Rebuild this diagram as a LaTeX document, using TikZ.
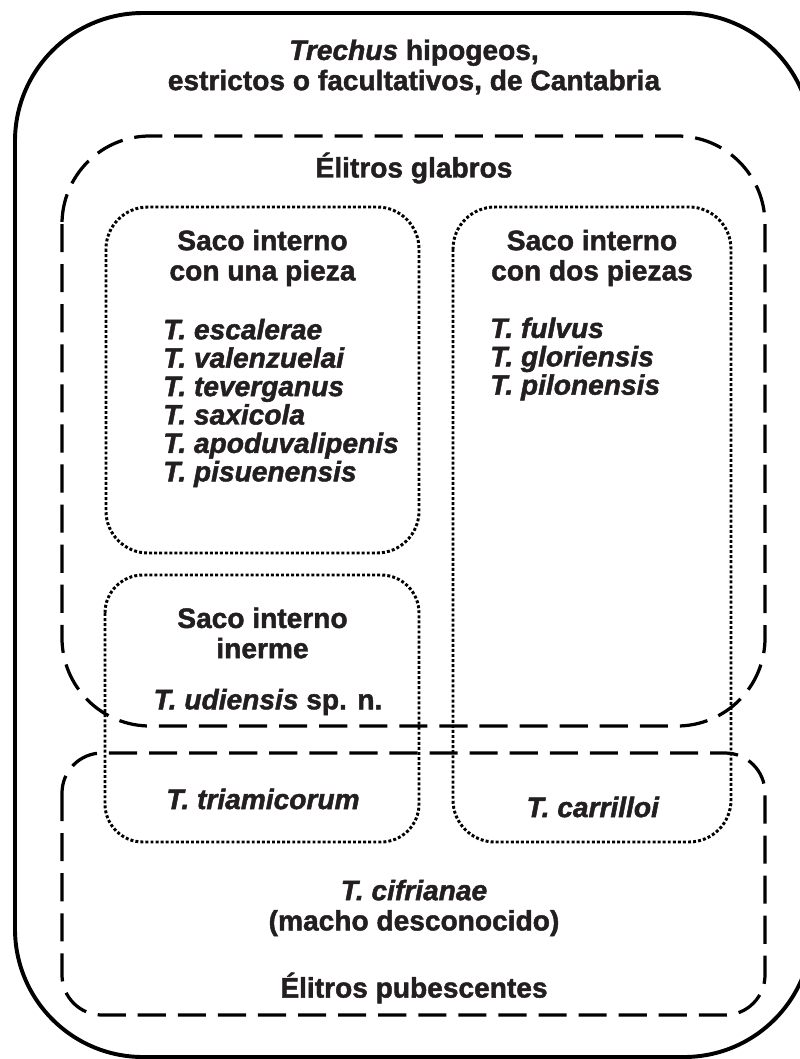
\documentclass[tikz,border=0pt]{standalone}
\usepackage{fontspec}
\setmainfont{Liberation Sans}[BoldFeatures={FakeBold=1.6},BoldItalicFeatures={FakeBold=1.6}]
\usetikzlibrary{positioning}
\definecolor{ink}{HTML}{231F20}

\begin{document}
\begin{tikzpicture}[x=0.025cm,y=-0.025cm,
  every node/.style={inner sep=0pt,text=ink,align=center,font=\fontsize{20}{21.5}\selectfont\bfseries},
  outerbox/.style={line width=2.8pt,rounded corners=3.2cm},
  dashbox/.style={line width=2.3pt,dash pattern=on 20pt off 8.5pt},
  dotbox/.style={line width=2.1pt,dash pattern=on 2.1pt off 1.5pt,rounded corners=1.05cm},
  spp/.style={align=left,anchor=west,font=\fontsize{20}{20.2}\selectfont\bfseries\itshape}]
\clip (0,0) rectangle (800,1059);
% boxes
\draw[outerbox] (15,13) rectangle (812,1057);
\draw[dashbox,rounded corners=2.2cm] (62,136) rectangle (765,726);
\draw[dashbox,rounded corners=1cm] (62,753) rectangle (765,1015);
\draw[dotbox] (106,207) rectangle (419,553);
\draw[dotbox] (453,207) rectangle (731,842);
\draw[dotbox,rounded corners=0.95cm] (105,575) rectangle (419,842);
% texts
\node (tit) at (414,67) {\textit{Trechus} hipogeos,\\estrictos o facultativos, de Cantabria};
\node (glab) at (414,168) {Élitros glabros};
\node (una) at (262.5,258) {Saco interno\\con una pieza};
\node[spp] (unaspp) at (163,403) {T. escalerae\\T. valenzuelai\\T. teverganus\\T. saxicola\\T. apoduvalipenis\\T. pisuenensis};
\node (dos) at (592,258) {Saco interno\\con dos piezas};
\node[spp] (dosspp) at (490,359) {T. fulvus\\T. gloriensis\\T. pilonensis};
\node (inerme) at (262.5,633) {Saco interno\\inerme};
\node (udi) at (268,702) {\textit{T. udiensis} sp. n.};
\node (tria) at (263,799) {\textit{T. triamicorum}};
\node (carr) at (593,807) {\textit{T. carrilloi}};
\node (cifr) at (414,908) {\textit{T. cifrianae}\\(macho desconocido)};
\node (pub) at (414,988) {Élitros pubescentes};
\end{tikzpicture}
\end{document}
